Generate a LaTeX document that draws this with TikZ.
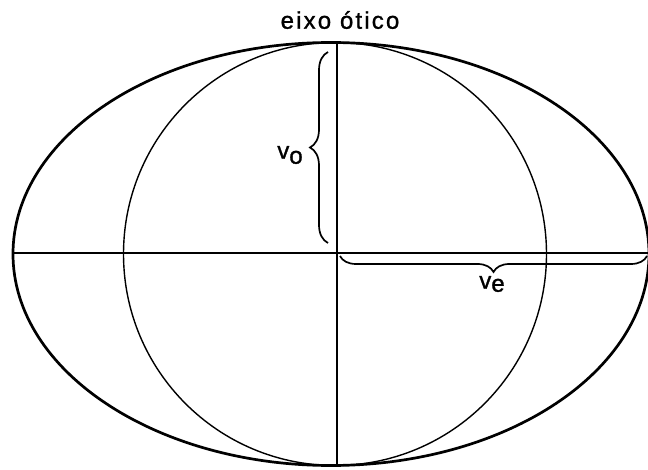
\documentclass[tikz,border=0pt]{standalone}
\usepackage{fontspec}
\setmainfont{Liberation Sans}
\newfontfamily\lblfont[FakeBold=1.2]{Liberation Sans}
\newfontfamily\spacedfont[LetterSpace=9,FakeBold=1.2]{Liberation Sans}
\usetikzlibrary{decorations.pathreplacing}
\begin{document}
\begin{tikzpicture}[x=1pt,y=-1pt,
  outerline/.style={line width=2.7pt},
  innerline/.style={line width=1.4pt},
  axisline/.style={line width=1.7pt},
  bracestyle/.style={line width=1.7pt, decorate, decoration={brace, amplitude=#1}},
  lbl/.style={font=\lblfont\fontsize{24}{26}\selectfont, inner sep=0pt}]
\useasboundingbox (0,0) rectangle (648,470);
\coordinate (ec) at (331,254);
\coordinate (cc) at (335,254);
\draw[outerline] (ec) ellipse [x radius=318, y radius=211.5];
\draw[innerline] (cc) circle [radius=211.5];
\coordinate (top) at (337,42.5);
\coordinate (bot) at (337,466);
\coordinate (lft) at (13,253);
\coordinate (rgt) at (648,253);
\draw[axisline] (top) -- (bot);
\draw[axisline] (lft) -- (rgt);
\coordinate (vo1) at (328,243);
\coordinate (vo2) at (328,52);
\draw[bracestyle=18pt] (vo1) -- (vo2);
\coordinate (ve1) at (647,256);
\coordinate (ve2) at (340,256);
\draw[bracestyle=16pt] (ve1) -- (ve2);
\node[font=\spacedfont\fontsize{24}{26}\selectfont, inner sep=0pt] (title) at (340,20) {eixo ótico};
\node[lbl] (vo) at (290,155) {v\raisebox{-5pt}{o}};
\node[lbl] (ve) at (492,284) {v\raisebox{-3pt}{e}};
\end{tikzpicture}
\end{document}
